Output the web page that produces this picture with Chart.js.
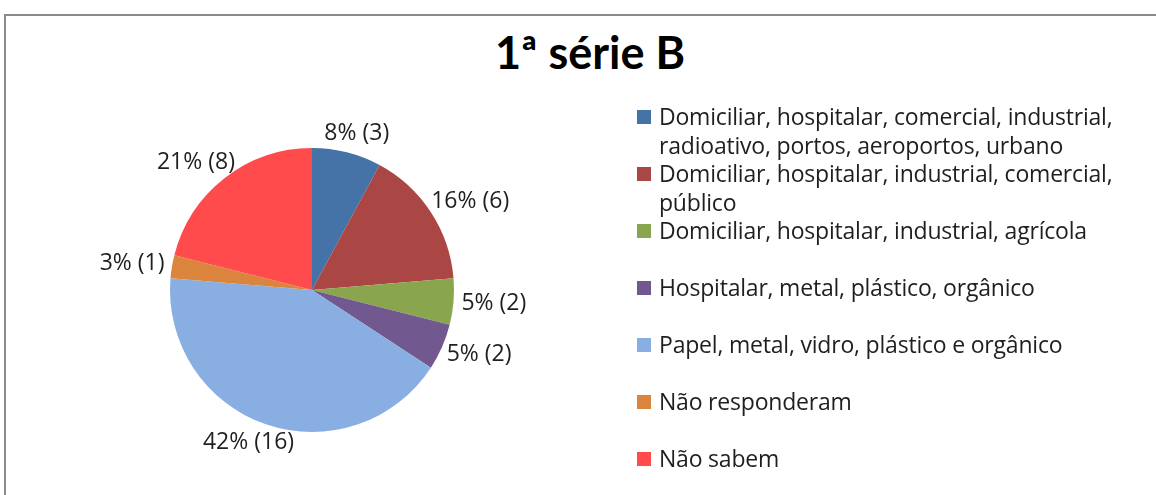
<!DOCTYPE html>
<html>
<head>
<meta charset="utf-8">
<script src="https://cdn.jsdelivr.net/npm/chart.js@4/dist/chart.umd.min.js"></script>
<style>
  body { margin: 0; width: 1156px; height: 495px; overflow: hidden; background: #fff; font-family: "Open Sans", Lato, sans-serif; color: #1f1f1f; }
  #frame { position: absolute; left: 4px; top: 14px; width: 1200px; height: 540px; border: 2px solid #8a8a8a; }
  #title { position: absolute; left: 0; width: 1180px; top: 25px; text-align: center; font-family: Lato, sans-serif; font-weight: bold; font-size: 45px; color: #000; }
  #chart { position: absolute; left: 0; top: 0; }
  #legend { position: absolute; left: 637px; top: 102px; margin: 0; padding: 0; list-style: none; }
  #legend li { position: relative; height: 57px; padding-left: 22px; font-size: 23px; line-height: 29px; white-space: pre; letter-spacing: -0.2px; }
  #legend li span { position: absolute; left: 0; top: 8px; width: 14px; height: 14px; }
</style>
</head>
<body>
<div id="frame"></div>
<div id="title">1ª série B</div>
<canvas id="chart" width="1156" height="495"></canvas>
<ul id="legend"></ul>
<script>
const categories = [
    'Domiciliar, hospitalar, comercial, industrial,\nradioativo, portos, aeroportos, urbano',
    'Domiciliar, hospitalar, industrial, comercial,\npúblico',
    'Domiciliar, hospitalar, industrial, agrícola',
    'Hospitalar, metal, plástico, orgânico',
    'Papel, metal, vidro, plástico e orgânico',
    'Não responderam',
    'Não sabem'
];
const counts = [3, 6, 2, 2, 16, 1, 8];
const colors = ['#4572A7', '#AA4643', '#89A54E', '#71588F', '#89AFE2', '#DB843D', '#FF4B4B'];

const total = counts.reduce((a, b) => a + b, 0);

// legend built from the same arrays
const legend = document.getElementById('legend');
categories.forEach((name, i) => {
    const li = document.createElement('li');
    const sw = document.createElement('span');
    sw.style.background = colors[i];
    li.appendChild(sw);
    li.appendChild(document.createTextNode(name));
    legend.appendChild(li);
});

// "8% (3)" style labels just outside each slice
const outsideLabels = {
    id: 'outsideLabels',
    afterDatasetsDraw(chart) {
        const ctx = chart.ctx;
        const meta = chart.getDatasetMeta(0);
        ctx.save();
        ctx.font = '23px "Open Sans", Lato, sans-serif';
        ctx.fillStyle = '#1f1f1f';
        ctx.textAlign = 'center';
        ctx.textBaseline = 'middle';
        meta.data.forEach((arc, i) => {
            const p = arc.getProps(['x', 'y', 'startAngle', 'endAngle', 'outerRadius']);
            const mid = (p.startAngle + p.endAngle) / 2;
            const dx = Math.cos(mid), dy = Math.sin(mid);
            const text = Math.round(counts[i] / total * 100) + '% (' + counts[i] + ')';
            const w = ctx.measureText(text).width;
            const h = 22;
            const r = p.outerRadius + 8;
            const cx = p.x + r * dx + w / 2 * dx;
            const cy = p.y + r * dy + h / 2 * dy;
            ctx.fillText(text, cx, cy);
        });
        ctx.restore();
    }
};

new Chart(document.getElementById('chart').getContext('2d'), {
    type: 'pie',
    data: {
        labels: categories,
        datasets: [{
            data: counts,
            backgroundColor: colors,
            borderWidth: 0
        }]
    },
    options: {
        responsive: false,
        animation: false,
        layout: { padding: { left: 170, right: 702, top: 148, bottom: 63 } },
        plugins: {
            legend: { display: false },
            tooltip: { enabled: false }
        }
    },
    plugins: [outsideLabels]
});
</script>
</body>
</html>
